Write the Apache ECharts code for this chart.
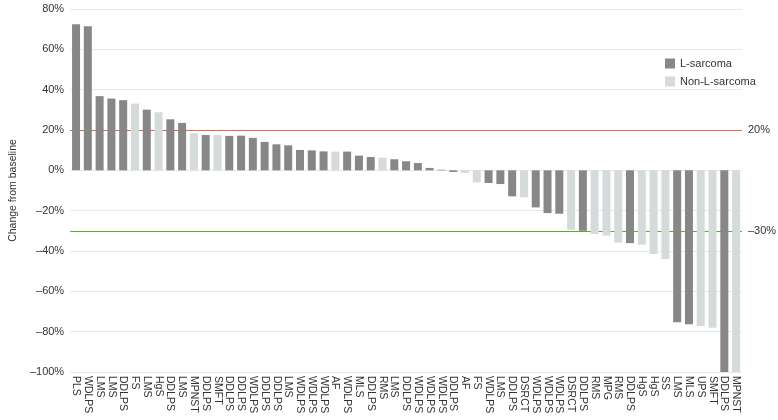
<!DOCTYPE html>
<html>
<head>
<meta charset="utf-8">
<script src="https://cdn.jsdelivr.net/npm/echarts@6/dist/echarts.min.js"></script>
<style>html,body{margin:0;padding:0;background:#fff}#c{width:778px;height:420px}</style>
</head>
<body>
<div id="c"></div>
<script>
const categories = ["PLS","WDLPS","LMS","LMS","DDLPS","FS","LMS","HgS","DDLPS","LMS",
  "MPNST","DDLPS","SMFT","DDLPS","DDLPS","WDLPS","DDLPS","DDLPS","LMS","WDLPS",
  "WDLPS","WDLPS","AF","WDLPS","MLS","DDLPS","RMS","LMS","DDLPS","WDLPS",
  "WDLPS","WDLPS","DDLPS","AF","FS","WDLPS","LMS","DDLPS","DSRCT","WDLPS",
  "WDLPS","WDLPS","DSRCT","DDLPS","RMS","MPG","RMS","DDLPS","HgS","HgS",
  "SS","LMS","MLS","UPS","SMFT","DDLPS","MPNST"];
const changes = [72.4,71.5,36.8,35.6,34.8,33.1,30.1,28.8,25.3,23.5,
  18.5,17.5,17.5,17.1,17.2,16.1,14.1,12.9,12.4,10.1,
  9.9,9.4,9.3,9.3,7.3,6.6,6.3,5.5,4.5,3.6,
  1.2,0.3,-0.8,-1.3,-6.0,-6.3,-6.8,-12.9,-13.4,-18.4,
  -21.2,-21.5,-29.5,-30.0,-31.6,-32.4,-35.8,-36.1,-36.9,-41.5,
  -44.0,-75.3,-76.3,-77.2,-78.0,-100,-100];
const lSarcomaTypes = ["PLS","WDLPS","DDLPS","LMS","MLS"];
const yTicks = [-100,-80,-60,-40,-20,0,20,40,60,80];
const refValues = [20,-30];
const refColors = ['#e8644c','#55b030'];

const fmt = v => (v < 0 ? "\u2013" + Math.abs(v) : v) + "%";
const lData = changes.map((v,i) => lSarcomaTypes.includes(categories[i]) ? v : null);
const nData = changes.map((v,i) => lSarcomaTypes.includes(categories[i]) ? null : v);

const chart = echarts.init(document.getElementById('c'));
chart.setOption({
  animation:false,
  textStyle:{fontFamily:'Liberation Sans, Arial, sans-serif'},
  grid:{left:62,right:36,top:9,bottom:48},
  legend:{orient:'vertical',left:660,top:53,itemWidth:10,itemHeight:10,itemGap:7,
    icon:'rect',textStyle:{fontSize:11,color:'#333'},
    data:['L-sarcoma','Non-L-sarcoma']},
  xAxis:{type:'category',data:categories,
    axisLine:{show:false},axisTick:{show:false},
    axisLabel:{interval:0,rotate:-90,fontSize:10.5,color:'#333',margin:4}},
  yAxis:{type:'value',min:yTicks[0],max:yTicks[yTicks.length-1],interval:20,
    name:'Change from baseline',nameLocation:'middle',nameGap:51,nameRotate:90,
    nameTextStyle:{fontSize:10.5,color:'#333'},
    axisLine:{show:false},axisTick:{show:false},
    axisLabel:{formatter:fmt,fontSize:11,color:'#333',margin:6},
    splitLine:{lineStyle:{color:'#e8e8e8'}}},
  series:[
    {name:'L-sarcoma',type:'bar',data:lData,barWidth:8,barGap:'-100%',z:3,
     itemStyle:{color:'#878787'},
     markLine:{symbol:'none',silent:true,animation:false,z:1,precision:0,
       label:{position:'end',color:'#333',fontSize:11,distance:6,formatter:p=>fmt(p.value)},
       data:refValues.map((v,i)=>({yAxis:v,lineStyle:{color:refColors[i],width:1,type:'solid'},
                                   itemStyle:{color:refColors[i]}}))}},
    {name:'Non-L-sarcoma',type:'bar',data:nData,barWidth:8,barGap:'-100%',z:3,
     itemStyle:{color:'#d5dbdb'}}
  ]
});
</script>
</body>
</html>
